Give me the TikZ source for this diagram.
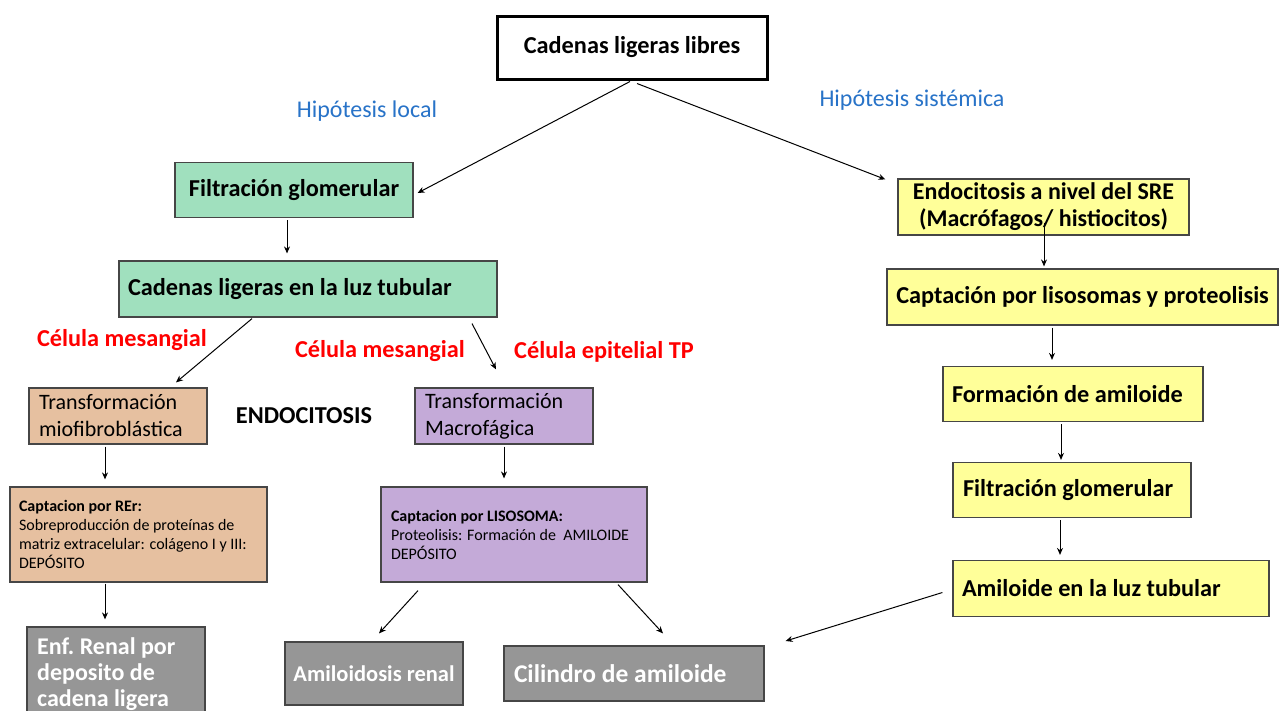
\documentclass[tikz,border=0pt]{standalone}
\usepackage{fontspec}
\setmainfont{Carlito}
\usetikzlibrary{calc,arrows.meta}
\definecolor{gbox}{RGB}{160,224,190}
\definecolor{pbox}{RGB}{230,192,160}
\definecolor{vbox}{RGB}{196,170,216}
\definecolor{ybox}{RGB}{255,255,153}
\definecolor{grbox}{RGB}{150,150,150}
\definecolor{bord}{RGB}{70,70,70}
\definecolor{hblue}{RGB}{40,115,200}
\definecolor{hred}{RGB}{255,0,0}
\tikzset{
  box/.style={draw=bord, line width=1.2pt, rectangle, inner ysep=0pt, anchor=center},
  big/.style={font=\fontsize{24.3}{28}\selectfont\bfseries},
  reg/.style={font=\fontsize{22}{27}\selectfont},
  small/.style={font=\fontsize{16}{19}\selectfont},
  arr/.style={-{Stealth[length=7pt,width=6pt]}, line width=1pt, black},
  lbl/.style={inner sep=0pt}
}
\begin{document}
\begin{tikzpicture}[x=1pt,y=-1pt]
\useasboundingbox (0,0) rectangle (1279,710);
\fill[white] (0,0) rectangle (1279,710);

% top
\node[box, draw=black, line width=3pt, fill=white, minimum width=270pt, minimum height=63pt, big] (top) at (632,47.5) {Cadenas ligeras libres};
\node[lbl, font=\fontsize{24}{28}\selectfont, text=hblue] (hl) at (367,111) {Hipótesis local};
\node[lbl, font=\fontsize{24}{28}\selectfont, text=hblue] (hs) at (912,100) {Hipótesis sistémica};

% local branch
\node[box, fill=gbox, minimum width=238pt, minimum height=55pt, inner xsep=8pt, text width=222pt, align=flush center, big] (fg) at (294,190) {Filtración glomerular};
\node[box, fill=gbox, minimum width=378pt, minimum height=56pt, inner xsep=9pt, text width=360pt, align=flush left, big] (clt) at (308,289) {Cadenas ligeras en la luz tubular};
\node[lbl, big, text=hred] (r1) at (122,340) {Célula mesangial};
\node[lbl, big, text=hred] (r2) at (380,351) {Célula mesangial};
\node[lbl, big, text=hred] (r3) at (604,352) {Célula epitelial TP};

\node[box, fill=pbox, minimum width=178pt, minimum height=56pt, inner xsep=10pt, text width=158pt, align=flush left, reg] (mio) at (118,416) {Transformación\\miofibroblástica};
\node[lbl, big] (endo) at (304,416) {ENDOCITOSIS};
\node[box, fill=vbox, minimum width=178pt, minimum height=56pt, inner xsep=10pt, text width=158pt, align=flush left, reg] (mac) at (504,416) {Transformación\\Macrofágica};

\node[box, fill=pbox, minimum width=257pt, minimum height=95pt, inner xsep=9pt, text width=239pt, align=flush left, small] (rer) at (138.5,534.5) {\textbf{Captacion por REr:}\\Sobreproducción de proteínas de\\matriz extracelular: colágeno I y III:\\DEPÓSITO};
\node[box, fill=vbox, minimum width=266pt, minimum height=95pt, inner xsep=10pt, text width=246pt, align=flush left, small] (lis) at (514,534.5) {\textbf{Captacion por LISOSOMA:}\\Proteolisis: Formación de\ \ AMILOIDE\\DEPÓSITO};

\node[box, fill=grbox, minimum width=178pt, minimum height=113pt] (enf) at (116,683.5) {};
\node[lbl, anchor=north west, align=flush left, text=white, font=\fontsize{24}{26}\selectfont\bfseries] (enft) at (37,637) {Enf.\ Renal por\\deposito de\\cadena ligera};
\node[box, fill=grbox, minimum width=178pt, minimum height=63pt, text=white, font=\fontsize{22.5}{24}\selectfont\bfseries] (amr) at (374,673.5) {Amiloidosis renal};
\node[box, fill=grbox, minimum width=260pt, minimum height=55pt, inner xsep=10pt, text width=240pt, align=flush left, text=white, font=\fontsize{25.5}{28}\selectfont\bfseries] (cil) at (634,673.5) {Cilindro de amiloide};

% systemic branch
\node[box, fill=ybox, minimum width=291pt, minimum height=56pt, inner xsep=4pt, text width=283pt, align=flush center, font=\fontsize{24}{27}\selectfont\bfseries] (sre) at (1043.5,207) {Endocitosis a nivel del SRE\\(Macrófagos/ histiocitos)};
\node[box, fill=ybox, minimum width=391pt, minimum height=56pt, inner xsep=2pt, text width=387pt, align=flush center, big] (cap) at (1082.5,297) {Captación por lisosomas y proteolisis};
\node[box, fill=ybox, minimum width=260pt, minimum height=55pt, inner xsep=9pt, text width=242pt, align=flush left, big] (fam) at (1073,394) {Formación de amiloide};
\node[box, fill=ybox, minimum width=238pt, minimum height=55pt, inner xsep=10pt, text width=218pt, align=flush left, big] (fg2) at (1072,490) {Filtración glomerular};
\node[box, fill=ybox, minimum width=316pt, minimum height=56pt, inner xsep=9pt, text width=298pt, align=flush left, big] (alt) at (1111,588.5) {Amiloide en la luz tubular};

% arrows
\draw[arr] ($(top.south)+(-2,1)$) -- ($(fg.east)+(4,3)$);
\draw[arr] ($(top.south)+(5,3)$) -- ($(sre.north west)+(-12,1)$);
\draw[arr] ($(fg.south)+(-7,2)$) -- ($(clt.north)+(-21,-7)$);
\draw[arr] ($(clt.south)+(-56,1)$) -- ($(mio.north)+(58,-5)$);
\draw[arr] ($(clt.south)+(164,6)$) -- ($(mac.north)+(-8,-18)$);
\draw[arr] ($(mio.south)+(-13,2)$) -- ($(rer.north)+(-33.5,-7)$);
\draw[arr] ($(mac.south)+(0,2)$) -- ($(lis.north)+(-10,-8)$);
\draw[arr] ($(rer.south)+(-33.5,1)$) -- ($(enf.north)+(-11,-7)$);
\draw[arr] ($(lis.south)+(-96,8)$) -- ($(amr.north)+(5,-8)$);
\draw[arr] ($(lis.south)+(104,2)$) -- ($(cil.north)+(29,-12)$);
\draw[arr] ($(sre.south)+(0.5,-13)$) -- ($(cap.north)+(-38.5,-2)$);
\draw[arr] ($(cap.south)+(-30.5,2)$) -- ($(fam.north)+(-21,-6)$);
\draw[arr] ($(fam.south)+(-12,2)$) -- ($(fg2.north)+(-11,-2)$);
\draw[arr] ($(fg2.south)+(-12,2)$) -- ($(alt.north)+(-51,-5)$);
\draw[arr] ($(alt.west)+(-10,4)$) -- ($(cil.east)+(21,-32.5)$);
\end{tikzpicture}
\end{document}
